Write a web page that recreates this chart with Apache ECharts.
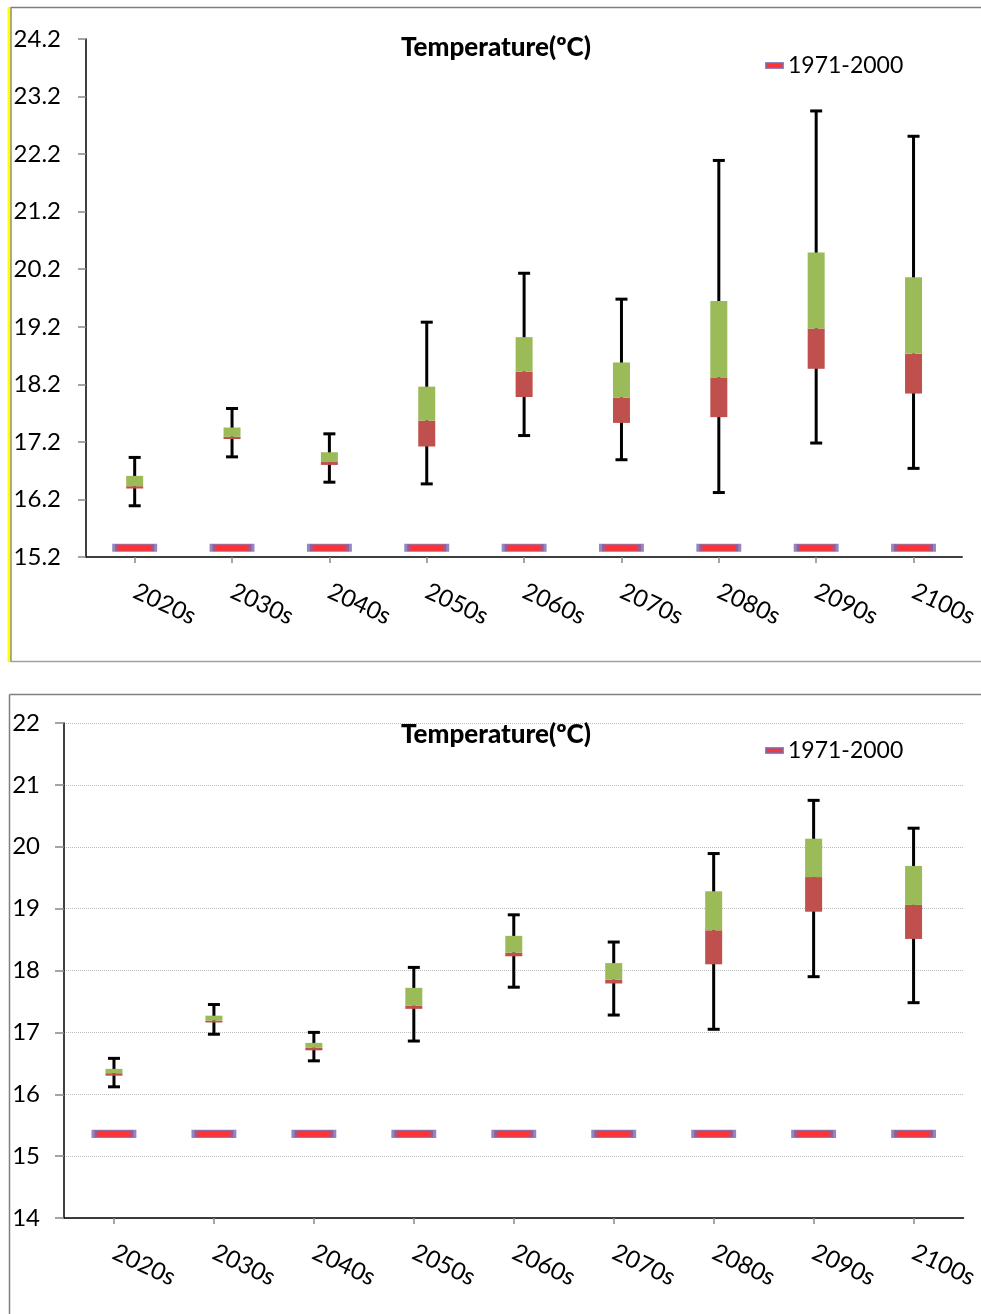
<!DOCTYPE html>
<html><head><meta charset="utf-8">
<script src="https://cdn.jsdelivr.net/npm/echarts@6/dist/echarts.min.js"></script>
<style>html,body{margin:0;padding:0;background:#fff}#c{width:981px;height:1314px}</style>
</head><body><div id="c"></div>
<script>
const categories = ['2020s','2030s','2040s','2050s','2060s','2070s','2080s','2090s','2100s'];
const baselineName = '1971-2000';

// Top chart
const topMin  = [16.09, 16.94, 16.50, 16.47, 17.31, 16.89, 16.32, 17.18, 16.74];
const topQ1   = [16.39, 17.25, 16.80, 17.12, 17.98, 17.53, 17.63, 18.47, 18.04];
const topMed  = [16.43, 17.29, 16.85, 17.57, 18.42, 17.97, 18.32, 19.17, 18.73];
const topQ3   = [16.61, 17.45, 17.02, 18.16, 19.02, 18.58, 19.65, 20.49, 20.06];
const topMax  = [16.93, 17.78, 17.34, 19.28, 20.13, 19.68, 22.09, 22.95, 22.51];
const topBase = [15.36, 15.36, 15.36, 15.36, 15.36, 15.36, 15.36, 15.36, 15.36];

// Bottom chart
const botMin  = [16.12, 16.97, 16.54, 16.86, 17.73, 17.28, 17.05, 17.90, 17.48];
const botQ1   = [16.30, 17.16, 16.71, 17.38, 18.23, 17.79, 18.10, 18.95, 18.51];
const botMed  = [16.34, 17.19, 16.75, 17.43, 18.29, 17.85, 18.65, 19.51, 19.06];
const botQ3   = [16.41, 17.27, 16.83, 17.72, 18.56, 18.12, 19.28, 20.13, 19.69];
const botMax  = [16.58, 17.45, 17.00, 18.05, 18.90, 18.46, 19.89, 20.75, 20.30];
const botBase = [15.36, 15.36, 15.36, 15.36, 15.36, 15.36, 15.36, 15.36, 15.36];

const FONT = 'Lato';
const chart = echarts.init(document.getElementById('c'), null, {renderer:'canvas'});

function boxData(mn, q1, md, q3, mx) {
  return categories.map((c, i) => [i, mn[i], q1[i], md[i], q3[i], mx[i]]);
}
function renderBox(params, api) {
  const i = api.value(0);
  const x = api.coord([i, api.value(1)])[0];
  const y = v => api.coord([i, v])[1];
  const yMin = y(api.value(1)), yQ1 = y(api.value(2)), yMed = y(api.value(3)),
        yQ3 = y(api.value(4)), yMax = y(api.value(5));
  const bw = 17, cw = 12, lw = 3;
  const ls = {stroke:'#000', lineWidth:lw};
  return {type:'group', children:[
    {type:'line', shape:{x1:x, y1:yMin, x2:x, y2:yMax}, style:ls},
    {type:'line', shape:{x1:x-cw/2, y1:yMax, x2:x+cw/2, y2:yMax}, style:ls},
    {type:'line', shape:{x1:x-cw/2, y1:yMin, x2:x+cw/2, y2:yMin}, style:ls},
    {type:'rect', shape:{x:x-bw/2, y:yMed, width:bw, height:Math.max(yQ1-yMed, 0)}, style:{fill:'#C0504D'}},
    {type:'rect', shape:{x:x-bw/2, y:yQ3, width:bw, height:Math.max(yMed-yQ3, 0)}, style:{fill:'#9BBB59'}}
  ]};
}

function xAxisCfg(gi) {
  return {
    type:'category', gridIndex:gi, data:categories, boundaryGap:true,
    axisLine:{show:true, lineStyle:{color:'#000', width:1.5}},
    axisTick:{show:true, alignWithLabel:true, length:6, lineStyle:{color:'#888', width:1.5}},
    axisLabel:{rotate:-25, margin:33, fontSize:24, fontFamily:FONT, color:'#000'},
    splitLine:{show:false}
  };
}

const baseStyle = {color:'#FF0000', borderColor:'#7B68B0', borderWidth:2.5};

const titleStyle = {fontSize:26, fontWeight:900, fontFamily:FONT, color:'#000'};
const legendText = {fontSize:23, fontFamily:FONT, color:'#000'};

const option = {
  animation:false,
  backgroundColor:'#fff',
  textStyle:{fontFamily:FONT},
  title:[
    {text:'Temperature(ºC)', left:396, top:30, textStyle:titleStyle},
    {text:'Temperature(ºC)', left:396, top:717, textStyle:titleStyle}
  ],
  legend:[
    {data:[baselineName], left:760, top:49, icon:'rect', itemWidth:17, itemHeight:5, itemGap:6,
     textStyle:legendText},
    {data:[baselineName], left:760, top:734, icon:'rect', itemWidth:17, itemHeight:5, itemGap:6,
     textStyle:legendText}
  ],
  grid:[
    {left:86, right:15, top:39, bottom:757},
    {left:64, right:13, top:723, bottom:96}
  ],
  xAxis:[xAxisCfg(0), xAxisCfg(1)],
  yAxis:[
    {type:'value', gridIndex:0, min:15.2, max:24.2, interval:1,
     axisLine:{show:true, lineStyle:{color:'#000', width:1.5}},
     axisTick:{show:true, length:8, lineStyle:{color:'#888', width:1.5}},
     axisLabel:{margin:25, fontSize:24, fontFamily:FONT, color:'#000', formatter:v => v.toFixed(1)},
     splitLine:{show:false}},
    {type:'value', gridIndex:1, min:14, max:22, interval:1,
     axisLine:{show:true, lineStyle:{color:'#000', width:1.5}},
     axisTick:{show:true, length:9, lineStyle:{color:'#888', width:1.5}},
     axisLabel:{margin:24, fontSize:24, fontFamily:FONT, color:'#000'},
     splitLine:{show:true, lineStyle:{type:'dotted', color:'#bdbdbd', width:1}}}
  ],
  series:[
    {type:'custom', xAxisIndex:0, yAxisIndex:0, renderItem:renderBox,
     encode:{x:0, y:[1,2,3,4,5]}, data:boxData(topMin, topQ1, topMed, topQ3, topMax), z:3},
    {type:'scatter', name:baselineName, xAxisIndex:0, yAxisIndex:0, symbol:'rect', symbolSize:[39,7],
     itemStyle:baseStyle, data:topBase, z:2},
    {type:'custom', xAxisIndex:1, yAxisIndex:1, renderItem:renderBox,
     encode:{x:0, y:[1,2,3,4,5]}, data:boxData(botMin, botQ1, botMed, botQ3, botMax), z:3},
    {type:'scatter', name:baselineName, xAxisIndex:1, yAxisIndex:1, symbol:'rect', symbolSize:[39,7],
     itemStyle:baseStyle, data:botBase, z:2}
  ],
  graphic:[
    {type:'rect', shape:{x:7.5, y:7, width:3, height:655}, style:{fill:'#FFFF00'}, silent:true},
    {type:'line', shape:{x1:11, y1:7, x2:11, y2:662}, style:{stroke:'#555', lineWidth:1}, silent:true},
    {type:'line', shape:{x1:11, y1:7.5, x2:981, y2:7.5}, style:{stroke:'#808080', lineWidth:1.5}, silent:true},
    {type:'line', shape:{x1:11, y1:661.5, x2:981, y2:661.5}, style:{stroke:'#a0a0a0', lineWidth:1.5}, silent:true},
    {type:'line', shape:{x1:9.5, y1:694.5, x2:981, y2:694.5}, style:{stroke:'#808080', lineWidth:1.5}, silent:true},
    {type:'line', shape:{x1:9.5, y1:694.5, x2:9.5, y2:1314}, style:{stroke:'#808080', lineWidth:1.5}, silent:true}
  ]
};
chart.setOption(option);
</script>
</body></html>
